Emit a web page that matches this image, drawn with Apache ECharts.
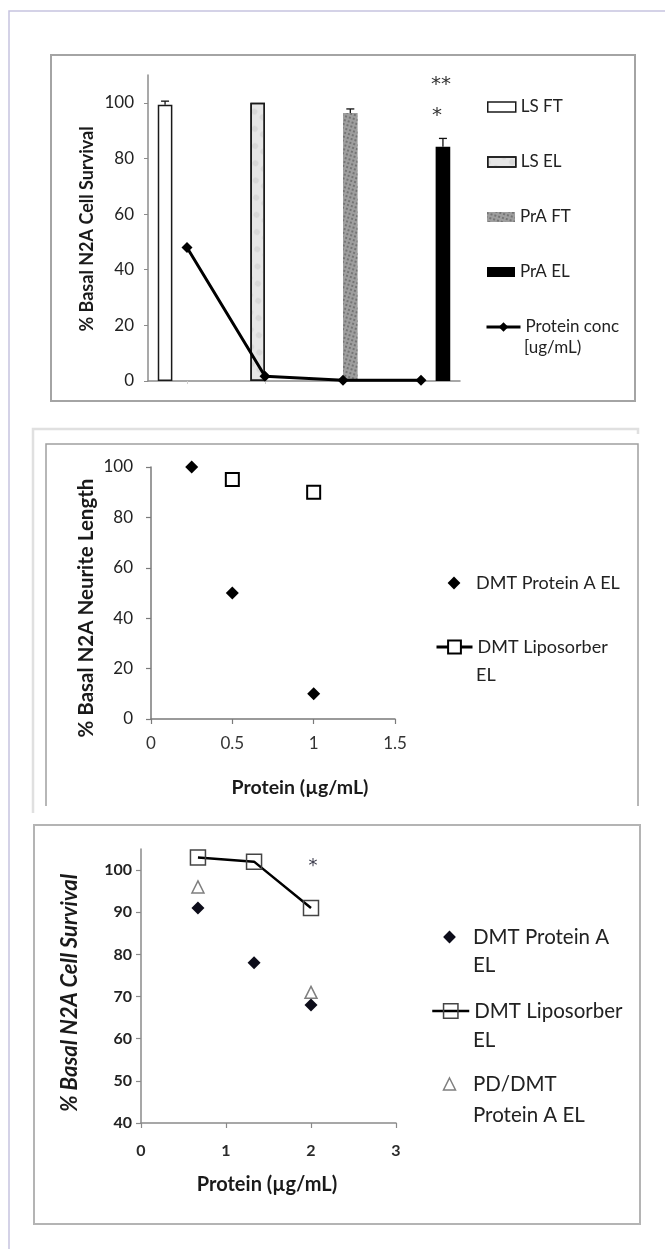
<!DOCTYPE html>
<html><head><meta charset="utf-8">
<script src="https://cdn.jsdelivr.net/npm/echarts@6/dist/echarts.min.js"></script>
<style>html,body{margin:0;padding:0;background:#fff}#c{width:665px;height:1249px}</style>
</head><body><div id="c"></div>
<script>
// ---------- Data: panel 1 (bars + protein concentration line) ----------
const c1Categories = ['LS FT', 'LS EL', 'PrA FT', 'PrA EL'];
const c1SurvivalValues = [99.3, 100, 96.3, 84.2];
const c1SurvivalErrors = [1.3, 0, 1.5, 3];
const c1ProteinConc = [48, 1.7, 0.3, 0.3];
// ---------- Data: panel 2 (neurite length) ----------
const c2ProteinAX = [0.25, 0.5, 1];
const c2ProteinAY = [100, 50, 10];
const c2LipoX = [0.5, 1];
const c2LipoY = [95, 90];
// ---------- Data: panel 3 (cell survival vs protein) ----------
const c3X = [0.67, 1.33, 2];
const c3ProteinAY = [91, 78, 68];
const c3LipoY = [103, 102, 91];
const c3PDX = [0.67, 2];
const c3PDY = [96, 71];

const FONT = 'Lato, "Open Sans", sans-serif';
const zip = (xs, ys) => xs.map((x, i) => [x, ys[i]]);

const chart = echarts.init(document.getElementById('c'), null, {renderer: 'canvas'});

const barStyles = [
  {color: '#ffffff', borderColor: '#1a1a1a', borderWidth: 1.5},
  {color: '#e6e6e6', borderColor: '#1a1a1a', borderWidth: 1.5,
   decal: {symbol: 'circle', symbolSize: 1, color: 'rgba(150,150,150,0.18)', dashArrayX: [6, 4], dashArrayY: [9, 5], rotation: 0.6}},
  {color: '#9e9e9e', borderWidth: 0,
   decal: {symbol: 'circle', symbolSize: 0.9, color: 'rgba(55,55,55,0.6)', dashArrayX: 2, dashArrayY: 2, rotation: 0.3}},
  {color: '#000000', borderWidth: 0}
];

const barSeries = c1Categories.map((name, i) => ({
  type: 'bar', name: name, xAxisIndex: 0, yAxisIndex: 0,
  data: c1Categories.map((_, j) => (j === i ? c1SurvivalValues[i] : '-')),
  barGap: '0%', barCategoryGap: '25%',
  itemStyle: barStyles[i], silent: true, z: 2
}));

const errSeries = {
  type: 'custom', xAxisIndex: 0, yAxisIndex: 0, z: 3, silent: true,
  data: c1SurvivalValues.map((v, j) => [j, v, c1SurvivalErrors[j]]).filter(d => d[2] > 0),
  encode: {x: 0, y: 1},
  renderItem: function (params, api) {
    const j = api.value(0), v = api.value(1), e = api.value(2);
    const band = api.size([1, 0])[0];
    const bw = band * 0.75 / 4;
    const off = (j - 1.5) * bw;
    const base = api.coord([j, v]);
    const top = api.coord([j, v + e]);
    const x = base[0] + off;
    return {type: 'group', children: [
      {type: 'line', shape: {x1: x, y1: base[1], x2: x, y2: top[1]}, style: {stroke: '#111', lineWidth: 1.3}},
      {type: 'line', shape: {x1: x - 4, y1: top[1], x2: x + 4, y2: top[1]}, style: {stroke: '#111', lineWidth: 1.3}}
    ]};
  }
};

const axisLbl = (size, extra) => Object.assign({fontFamily: FONT, fontSize: size, color: '#222'}, extra || {});

function lg(name, left, top, o) {
  o = o || {};
  return {
    data: [name], left: left, top: top, orient: 'vertical', padding: 0, itemGap: 0,
    selectedMode: false, itemWidth: o.w, itemHeight: o.h,
    formatter: o.fmt || undefined,
    icon: o.icon,
    itemStyle: o.itemStyle, lineStyle: o.lineStyle,
    textStyle: {fontFamily: FONT, fontSize: o.fs || 17, lineHeight: o.lh || 22, color: '#222'}
  };
}

const txt = (text, x, y, size, extra) => ({
  type: 'text', x: x, y: y, z: 10, silent: true,
  style: Object.assign({text: text, fontFamily: FONT, fontSize: size, fill: '#222',
    textAlign: 'left', textVerticalAlign: 'middle', verticalAlign: 'middle'}, extra || {})
});
const vtxt = (text, x, y, size, extra) => ({
  type: 'text', x: x, y: y, rotation: Math.PI / 2, z: 10, silent: true,
  style: Object.assign({text: text, fontFamily: FONT, fontSize: size, fontWeight: 'bold', fill: '#1a1a1a',
    textAlign: 'center', textVerticalAlign: 'middle', verticalAlign: 'middle'}, extra || {})
});
const STAR = '"DejaVu Sans", sans-serif';

const noLine = {color: '#000', width: 0, opacity: 0};

const option = {
  backgroundColor: '#fff',
  animation: false,
  grid: [
    {left: 148, top: 75, width: 312, height: 306, outerBoundsMode: 'none'},
    {left: 151, top: 467, width: 244, height: 252, outerBoundsMode: 'none'},
    {left: 141, top: 849, width: 255, height: 274, outerBoundsMode: 'none'}
  ],
  xAxis: [
    {gridIndex: 0, type: 'category', data: c1Categories,
     axisLabel: {show: false},
     axisLine: {show: true, lineStyle: {color: '#8c8c8c', width: 1.5}},
     axisTick: {show: true, alignWithLabel: true, length: 3, lineStyle: {color: '#cfcfcf'}},
     splitLine: {show: false}},
    {gridIndex: 1, type: 'value', min: 0, max: 1.5, interval: 0.5,
     axisLine: {show: true, onZero: false, lineStyle: {color: '#7a7a7a', width: 1.5}},
     axisTick: {show: true, length: 5, lineStyle: {color: '#7a7a7a', width: 1.2}},
     axisLabel: axisLbl(17, {margin: 16, color: '#333'}),
     splitLine: {show: false}},
    {gridIndex: 2, type: 'value', min: 0, max: 3, interval: 1,
     axisLine: {show: true, onZero: false, lineStyle: {color: '#8a8a8a', width: 1.5}},
     axisTick: {show: true, length: 5, lineStyle: {color: '#8a8a8a', width: 1.2}},
     axisLabel: axisLbl(16, {margin: 20, fontWeight: 'bold', color: '#2a2a2a'}),
     splitLine: {show: false}}
  ],
  yAxis: [
    {gridIndex: 0, type: 'value', min: 0, max: 110, interval: 20,
     axisLine: {show: true, lineStyle: {color: '#8c8c8c', width: 1.5}},
     axisTick: {show: true, length: 4, lineStyle: {color: '#8c8c8c'}},
     axisLabel: axisLbl(17, {margin: 14, showMaxLabel: false, formatter: v => (v > 100 ? '' : v)}),
     splitLine: {show: false}},
    {gridIndex: 1, type: 'value', min: 0, max: 100, interval: 20,
     axisLine: {show: true, onZero: false, lineStyle: {color: '#7a7a7a', width: 1.5}},
     axisTick: {show: true, length: 5, lineStyle: {color: '#7a7a7a', width: 1.2}},
     axisLabel: axisLbl(17, {margin: 18}),
     splitLine: {show: false}},
    {gridIndex: 2, type: 'value', min: 40, max: 105, interval: 10,
     axisLine: {show: true, onZero: false, lineStyle: {color: '#8a8a8a', width: 1.5}},
     axisTick: {show: true, length: 5, lineStyle: {color: '#8a8a8a', width: 1.2}},
     axisLabel: axisLbl(16, {margin: 9, fontWeight: 'bold', showMaxLabel: false, formatter: v => (v > 100 ? '' : v)}),
     splitLine: {show: false}}
  ],
  legend: [
    lg('LS FT', 487, 96, {w: 28, h: 10, icon: 'rect', itemStyle: {color: '#fff', borderColor: '#1a1a1a', borderWidth: 1.5}}),
    lg('LS EL', 487, 151, {w: 28, h: 10, icon: 'rect', itemStyle: {borderColor: '#1a1a1a', borderWidth: 1.5}}),
    lg('PrA FT', 487, 206, {w: 28, h: 10, icon: 'rect', itemStyle: {borderWidth: 0}}),
    lg('PrA EL', 487, 261, {w: 28, h: 10, icon: 'rect', itemStyle: {borderWidth: 0}}),
    lg('Protein conc [ug/mL)', 485, 316, {w: 34, h: 12, fmt: () => 'Protein conc',
       lineStyle: {color: '#000', width: 3, opacity: 1}, itemStyle: {color: '#000', borderWidth: 0}}),
    lg('DMT Protein A EL', 437, 571, {w: 34, h: 16, fs: 18, lh: 24,
       lineStyle: noLine, itemStyle: {color: '#000', borderWidth: 0}}),
    lg('DMT Liposorber EL', 435, 635, {w: 36, h: 16, fs: 18, lh: 24, fmt: () => 'DMT Liposorber',
       lineStyle: {color: '#000', width: 3, opacity: 1}, itemStyle: {color: '#fff', borderColor: '#000', borderWidth: 2}}),
    lg('Panel 3 DMT Protein A EL', 431, 922, {w: 37, h: 16, fs: 20.5, lh: 30, fmt: () => 'DMT Protein A',
       lineStyle: noLine, itemStyle: {color: '#0d0d1a', borderWidth: 0}}),
    lg('Panel 3 DMT Liposorber EL', 431, 996, {w: 37, h: 18, fs: 20.5, lh: 30, fmt: () => 'DMT Liposorber',
       lineStyle: {color: '#000', width: 2.5, opacity: 1}, itemStyle: {color: 'rgba(255,255,255,0)', borderColor: '#444', borderWidth: 1.5}}),
    lg('PD/DMT Protein A EL', 431, 1069, {w: 37, h: 15, fs: 20.5, lh: 30, fmt: () => 'PD/DMT',
       lineStyle: noLine, itemStyle: {color: '#fff', borderColor: '#7f7f7f', borderWidth: 1.5}})
  ],
  series: barSeries.concat([
    errSeries,
    {type: 'line', name: 'Protein conc [ug/mL)', xAxisIndex: 0, yAxisIndex: 0, z: 5,
     data: c1ProteinConc, symbol: 'diamond', symbolSize: 11, showSymbol: true,
     lineStyle: {color: '#000', width: 3}, itemStyle: {color: '#000'}, silent: true},
    {type: 'line', name: 'DMT Protein A EL', xAxisIndex: 1, yAxisIndex: 1,
     data: zip(c2ProteinAX, c2ProteinAY), symbol: 'diamond', symbolSize: 13, showSymbol: true,
     lineStyle: noLine, itemStyle: {color: '#000', opacity: 1}, silent: true},
    {type: 'line', name: 'DMT Liposorber EL', xAxisIndex: 1, yAxisIndex: 1,
     data: zip(c2LipoX, c2LipoY), symbol: 'rect', symbolSize: 13, showSymbol: true,
     lineStyle: noLine,
     itemStyle: {color: '#fff', borderColor: '#000', borderWidth: 2}, silent: true},
    {type: 'line', name: 'Panel 3 DMT Protein A EL', xAxisIndex: 2, yAxisIndex: 2,
     data: zip(c3X, c3ProteinAY), symbol: 'diamond', symbolSize: 13, showSymbol: true,
     lineStyle: noLine, itemStyle: {color: '#0d0d1a', opacity: 1}, silent: true},
    {type: 'line', name: 'Panel 3 DMT Liposorber EL', xAxisIndex: 2, yAxisIndex: 2,
     data: zip(c3X, c3LipoY), symbol: 'rect', symbolSize: 15, showSymbol: true,
     lineStyle: {color: '#000', width: 2.5},
     itemStyle: {color: 'rgba(255,255,255,0)', borderColor: '#444', borderWidth: 1.5}, silent: true},
    {type: 'line', name: 'PD/DMT Protein A EL', xAxisIndex: 2, yAxisIndex: 2,
     data: zip(c3PDX, c3PDY), symbol: 'triangle', symbolSize: 12, showSymbol: true,
     lineStyle: noLine,
     itemStyle: {color: '#fff', borderColor: '#7f7f7f', borderWidth: 1.5, opacity: 1}, silent: true}
  ]),
  graphic: [
    // page frame
    {type: 'polyline', z: 0, silent: true, shape: {points: [[9, 1249], [9, 11], [665, 11]]},
     style: {stroke: '#c6c3df', lineWidth: 1.5, fill: null}},
    // panel frames
    {type: 'rect', z: 0, silent: true, shape: {x: 51, y: 55, width: 584, height: 346},
     style: {stroke: '#a4a4a4', lineWidth: 2, fill: null}},
    {type: 'polyline', z: 0, silent: true, shape: {points: [[33, 813], [33, 429], [638, 429], [638, 434]]},
     style: {stroke: '#e0e0e0', lineWidth: 2.5, fill: null}},
    {type: 'polyline', z: 0, silent: true, shape: {points: [[46, 806], [46, 444], [638, 444], [638, 806]]},
     style: {stroke: '#a0a0a0', lineWidth: 1.5, fill: null}},
    {type: 'rect', z: 0, silent: true, shape: {x: 34, y: 825, width: 606, height: 399},
     style: {stroke: '#b4b4b4', lineWidth: 2, fill: null}},
    // axis titles
    vtxt('% Basal N2A Cell Survival', 87, 229, 18),
    vtxt('% Basal N2A Neurite Length', 86, 608, 20.5),
    txt('Protein (µg/mL)', 300, 788, 19.5, {textAlign: 'center', fontWeight: 'bold', fill: '#1a1a1a'}),
    vtxt('% Basal N2A Cell Survival', 70, 993, 22, {fontStyle: 'italic'}),
    txt('Protein (µg/mL)', 267, 1185, 20, {textAlign: 'center', fontWeight: 'bold', fill: '#1a1a1a'}),
    // legend continuation lines
    txt('[ug/mL)', 524, 348, 17),
    txt('EL', 476, 675, 18),
    txt('EL', 473, 965, 20.5),
    txt('EL', 473, 1040, 20.5),
    txt('Protein A EL', 473, 1115, 20.5),
    // significance marks
    txt('**', 441, 85, 20, {textAlign: 'center', fill: '#333', fontFamily: STAR}),
    txt('*', 437, 116, 20, {textAlign: 'center', fill: '#333', fontFamily: STAR}),
    txt('*', 313, 866, 18, {textAlign: 'center', fill: '#3a3a4a', fontFamily: STAR})
  ]
};
chart.setOption(option);
</script>
</body></html>
